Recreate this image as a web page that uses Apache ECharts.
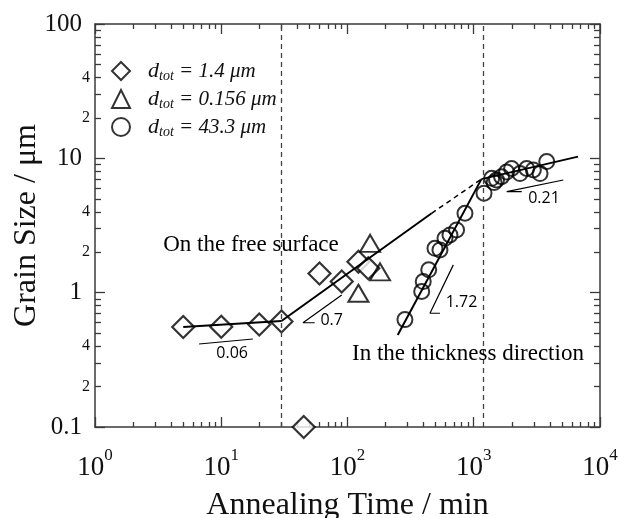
<!DOCTYPE html>
<html>
<head>
<meta charset="utf-8">
<script src="https://cdn.jsdelivr.net/npm/echarts@6/dist/echarts.min.js"></script>
<style>
  html, body { margin: 0; padding: 0; background: #fff; }
  #chart { width: 620px; height: 518px; }
</style>
</head>
<body>
<div id="chart"></div>
<script>
// annealing time (min) / grain size (um)
var diamondTime = [5, 10, 20, 30, 45, 60, 90, 122, 146];
var diamondSize = [0.555, 0.558, 0.58, 0.61, 0.1, 1.39, 1.21, 1.70, 1.52];
var triangleTime = [122, 151, 181];
var triangleSize = [0.99, 2.33, 1.43];
var circleTime = [285, 387, 398, 440, 493, 540, 592, 648, 731, 852, 1206, 1387, 1450, 1515, 1660, 1820, 1995, 2325, 2625, 2965, 3350, 3785];
var circleSize = [0.63, 1.02, 1.21, 1.48, 2.14, 2.08, 2.54, 2.69, 2.93, 3.9, 5.5, 7.1, 6.6, 6.9, 7.3, 7.9, 8.4, 7.7, 8.4, 8.2, 7.7, 9.46];
var legendDiameters = ['1.4', '0.156', '43.3'];

// fitted lines
var fitLow = [[5, 0.555], [30, 0.615]];
var fitSurface = [[30, 0.615], [464, 3.9]];
var fitSurfaceExt = [[464, 3.9], [1150, 7.0]];
var fitThickness = [[250, 0.484], [1150, 7.0]];
var fitLate = [[1150, 7.0], [6700, 10.3]];

// slope guides
var slope006 = [[6.67, 0.415], [17.8, 0.452]];
var slope07 = [[55, 0.597], [44.4, 0.597], [90, 0.96]];
var slope172 = [[540, 0.703], [450, 0.703], [689, 1.61]];
var slope021 = [[2400, 5.65], [1824, 5.65], [5120, 6.9]];
var slopeText = ['0.06', '0.7', '1.72', '0.21'];
var slopeTextPos = [[12.2, 0.35], [75, 0.626], [800, 0.84], [3600, 5.05]];
var regionText = ['On the free surface', 'In the thickness direction'];
var regionTextPos = [[17.2, 2.26], [900, 0.35]];

var boundaryTimes = [30, 1200];

// tick labels
var xMajor = [1, 10, 100, 1000, 10000];
var xExp = ['0', '1', '2', '3', '4'];
var yMajor = [0.1, 1, 10, 100];
var yMinorLabeled = [0.2, 0.4, 2, 4, 20, 40];

function minorTicks(lo, hi) {
  var out = [];
  for (var d = lo; d < hi * 0.999; d *= 10) {
    for (var k = 2; k <= 9; k++) out.push(+(d * k).toPrecision(3));
  }
  return out;
}
function pairs(xs, ys) {
  return xs.map(function (x, i) { return [x, ys[i]]; });
}

var serif = 'Liberation Serif';
var axisColor = '#3a3a3a';
var ink = '#111';

function logAxis(dir, pos, ticks, len, withLine) {
  return {
    type: 'log', logBase: 10, position: pos,
    min: dir === 'x' ? 1 : 0.1, max: dir === 'x' ? 10000 : 100,
    axisLine: { show: withLine, lineStyle: { color: axisColor, width: 1.5 } },
    axisTick: { show: true, inside: true, length: len, customValues: ticks, lineStyle: { color: axisColor, width: 1.3 } },
    axisLabel: { show: false },
    splitLine: { show: false }
  };
}

var xBottom = logAxis('x', 'bottom', xMajor, 10, true);
xBottom.axisLabel = {
  show: true, customValues: xMajor, margin: 20,
  formatter: function (v) {
    var i = Math.round(Math.log10(v));
    return '{b|10}{s|' + xExp[i] + '}';
  },
  rich: {
    b: { fontFamily: serif, fontSize: 27, color: ink, lineHeight: 28, padding: [13, 0, 0, 0] },
    s: { fontFamily: serif, fontSize: 17, color: ink, lineHeight: 18, verticalAlign: 'top' }
  }
};
xBottom.name = 'Annealing Time / min';
xBottom.nameLocation = 'middle';
xBottom.nameGap = 63;
xBottom.nameTextStyle = { fontFamily: serif, fontSize: 32, color: ink };

var yLeft = logAxis('y', 'left', yMajor, 10, true);
yLeft.axisLabel = {
  show: true, customValues: yMajor.concat(yMinorLabeled), margin: 5,
  formatter: function (v) {
    var e = Math.log10(v);
    var major = Math.abs(e - Math.round(e)) < 1e-6;
    if (major) {
      return '{big|' + (v >= 1 ? String(Math.round(v)) : String(Math.round(v * 10) / 10)) + '}';
    }
    // minor labels show only the leading digit
    return '{small|' + Math.round(v / Math.pow(10, Math.floor(e + 1e-9))) + '}';
  },
  rich: {
    big: { fontFamily: serif, fontSize: 25, color: ink, padding: [0, 8, 0, 0] },
    small: { fontFamily: serif, fontSize: 16, color: ink }
  }
};
yLeft.name = 'Grain Size / \u03bcm';
yLeft.nameLocation = 'middle';
yLeft.nameGap = 52;
yLeft.nameMoveOverlap = false;
yLeft.nameRotate = 90;
yLeft.nameTextStyle = { fontFamily: serif, fontSize: 32, color: ink };

var markerStyle = { color: 'rgba(255,255,255,0)', borderColor: '#000', borderWidth: 2 };

function fitLine(data, width, dashed) {
  return {
    type: 'line', data: data, symbol: 'none', z: 4, silent: true,
    lineStyle: { color: '#000', width: width, type: dashed ? [5, 4] : 'solid' }
  };
}
function textSeries(texts, pos, style) {
  return {
    type: 'scatter', symbolSize: 1, z: 5, silent: true,
    itemStyle: { color: 'rgba(0,0,0,0)' },
    label: Object.assign({ show: true, position: 'inside', formatter: '{b}', opacity: 1 }, style),
    data: texts.map(function (t, i) { return { name: t, value: pos[i] }; })
  };
}

var chart = echarts.init(document.getElementById('chart'));
chart.setOption({
  animation: false,
  backgroundColor: '#fff',
  grid: { left: 95, right: 20, top: 24, bottom: 91, outerBoundsMode: 'none', containLabel: false },
  legend: {
    selectedMode: false,
    orient: 'vertical',
    left: 106, top: 55,
    itemWidth: 18, itemHeight: 18, itemGap: 5,
    data: legendDiameters,
    itemStyle: { color: 'rgba(255,255,255,0)', borderColor: '#000', borderWidth: 2 },
    formatter: function (name) { return '{d|d}{sub|tot}{t| = ' + name + ' \u03bcm}'; },
    textStyle: {
      padding: [0, 0, 0, 13],
      rich: {
        d: { fontFamily: serif, fontStyle: 'italic', fontSize: 22, color: ink, lineHeight: 24 },
        sub: { fontFamily: serif, fontStyle: 'italic', fontSize: 14, color: ink, lineHeight: 14, verticalAlign: 'bottom', padding: [8, 0, 0, 0] },
        t: { fontFamily: serif, fontStyle: 'italic', fontSize: 21, color: ink, lineHeight: 24 }
      }
    }
  },
  xAxis: [
    xBottom,
    logAxis('x', 'bottom', minorTicks(1, 10000), 5, false),
    logAxis('x', 'top', xMajor, 10, true),
    logAxis('x', 'top', minorTicks(1, 10000), 5, false)
  ],
  yAxis: [
    yLeft,
    logAxis('y', 'left', minorTicks(0.1, 100), 6, false),
    logAxis('y', 'right', yMajor, 10, true),
    logAxis('y', 'right', minorTicks(0.1, 100), 6, false)
  ],
  series: [
    {
      name: legendDiameters[0], type: 'scatter', symbol: 'diamond', symbolSize: [22, 22], clip: false, z: 3,
      itemStyle: { color: '#fff', borderColor: '#000', borderWidth: 2.2 },
      data: pairs(diamondTime, diamondSize),
      markLine: {
        silent: true, symbol: 'none', label: { show: false },
        lineStyle: { color: '#444', width: 1.3, type: [5, 4] },
        data: boundaryTimes.map(function (t) { return { xAxis: t }; })
      }
    },
    {
      name: legendDiameters[1], type: 'scatter', symbol: 'triangle', symbolSize: [20, 17], clip: false, z: 3,
      itemStyle: markerStyle,
      data: pairs(triangleTime, triangleSize)
    },
    {
      name: legendDiameters[2], type: 'scatter', symbol: 'circle', symbolSize: 15, clip: false, z: 3,
      itemStyle: markerStyle,
      data: pairs(circleTime, circleSize)
    },
    fitLine(fitLow, 2, false),
    fitLine(fitSurface, 2, false),
    fitLine(fitSurfaceExt, 1.5, true),
    fitLine(fitThickness, 2, false),
    fitLine(fitLate, 2, false),
    fitLine(slope006, 1.2, false),
    fitLine(slope07, 1.2, false),
    fitLine(slope172, 1.2, false),
    fitLine(slope021, 1.2, false),
    textSeries(slopeText, slopeTextPos, { fontFamily: 'Open Sans', fontSize: 16, color: '#000' }),
    textSeries(regionText, regionTextPos, { fontFamily: serif, fontSize: 23, color: '#000' })
  ]
});
</script>
</body>
</html>
